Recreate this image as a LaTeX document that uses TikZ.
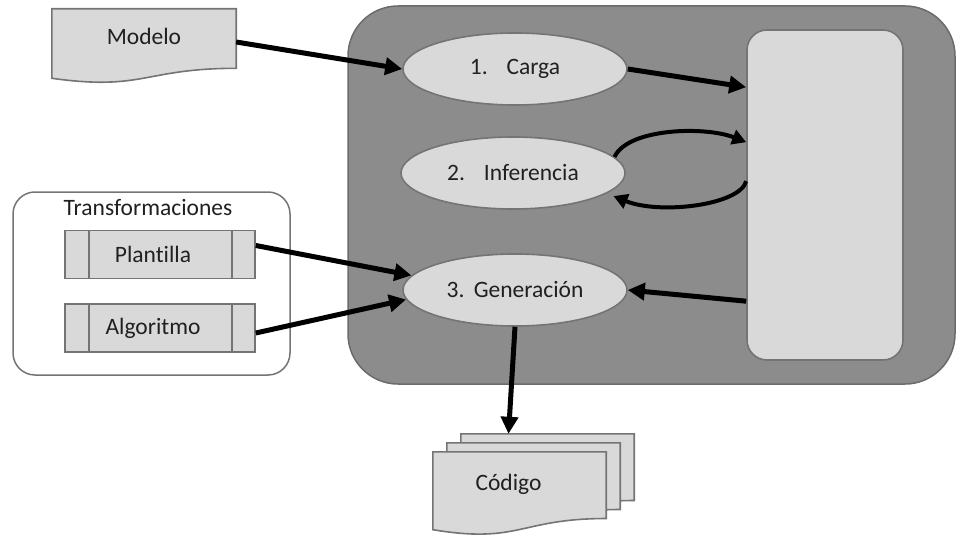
\documentclass[tikz,border=0pt]{standalone}
\usepackage{fontspec}
\setmainfont{Carlito}[Ligatures=NoCommon]
\usetikzlibrary{shapes.geometric,arrows.meta,calc,backgrounds}

\definecolor{panel}{HTML}{8C8C8C}
\definecolor{panelline}{HTML}{6B6B6B}
\definecolor{boxfill}{HTML}{D9D9D9}
\definecolor{boxline}{HTML}{747474}
\definecolor{ink}{HTML}{202020}

% outline of a flowchart "document" sheet, built on the anchors of node #1
\newcommand\docoutline[1]{(#1.north west) -- (#1.north east)
  -- ($(#1.north east)!0.80!(#1.south east)$)
  .. controls ($(#1.north)!0.80!(#1.south)$) and ($(#1.north)!1.107!(#1.south)$)
  .. ($(#1.north west)!0.934!(#1.south west)$) -- cycle}

\begin{document}
\begin{tikzpicture}[x=1pt,y=-1pt,
  font=\fontsize{23.5}{28}\selectfont, text=ink,
  shapefill/.style={fill=boxfill, draw=boxline, line width=1.6pt},
  stage/.style={ellipse, shapefill, minimum width=224pt, minimum height=72pt, inner sep=0pt},
  procbox/.style={rectangle, shapefill, minimum width=190pt, minimum height=48pt, inner sep=0pt},
  sheet/.style={rectangle, inner sep=0pt, minimum width=173pt, text height=38pt, text depth=45pt},
  flow/.style={line width=5pt, -{Triangle[length=17pt,width=17pt]}},
  cycleflow/.style={line width=4pt, -{Triangle[length=14pt,width=15pt]}},
]
\useasboundingbox (0,0) rectangle (956,535);

% processing engine
\node[fill=panel, draw=panelline, line width=1.5pt, rounded corners=50pt,
      minimum width=607pt, minimum height=378pt] (engine) at (651.5,195) {};
\node[shapefill, rounded corners=20pt, minimum width=156pt, minimum height=330pt] (store) at (825,195) {};

\node[stage] (carga) at (515,69) {1.\hspace{0.8em}Carga};
\node[stage] (inferencia) at (513,173) {2.\hspace{0.8em}Inferencia};
\node[stage] (generacion) at (515,290) {3.\hspace{0.4em}Generación};

% transformations group
\node[draw=boxline, fill=white, line width=1.5pt, rounded corners=22pt,
      minimum width=277pt, minimum height=183pt] (transf) at (151.5,283.5) {};
\node (transftitle) at (148,208) {Transformaciones};
\node[procbox] (plantilla) at (160,254.5) {\hspace*{-14pt}Plantilla};
\node[procbox] (algoritmo) at (160,328) {\hspace*{-14pt}Algoritmo};
\foreach \n in {plantilla,algoritmo}
  \draw[boxline, line width=1.6pt]
    ([xshift=25pt]\n.north west) -- ([xshift=25pt]\n.south west)
    ([xshift=-24pt]\n.north east) -- ([xshift=-24pt]\n.south east);

% input model and generated code (document sheets)
\node[rectangle, inner sep=0pt, minimum width=184pt, text height=36pt, text depth=38pt] (modelo) at (144,46) {Modelo};
\node[sheet] (codigo3) at (547.5,475.5) {};
\node[sheet] (codigo2) at (533.5,484.5) {};
\node[sheet] (codigo) at (519.5,493.5) {\hspace*{-22pt}Código};

\begin{scope}[on background layer]
  \filldraw[shapefill] \docoutline{modelo};
  \filldraw[shapefill] \docoutline{codigo3};
  \filldraw[shapefill] \docoutline{codigo2};
  \filldraw[shapefill] \docoutline{codigo};
\end{scope}

% connectors
\draw[flow] ([yshift=4pt]modelo.east) -- (carga.west);
\draw[flow] (carga.east) -- ([yshift=-58pt]store.north west);
\draw[cycleflow] (inferencia.9) .. controls (628,128) and (705,126) .. ([yshift=-113pt]store.north west);
\draw[cycleflow] ([yshift=-152pt]store.north west) .. controls (740,205) and (660,215) .. ([shift={(6pt,-3pt)}]inferencia.-12);
\draw[flow] ([yshift=-272pt]store.north west) -- (generacion.east);
\draw[flow] ([yshift=9pt]plantilla.east) -- (generacion.172);
\draw[flow] ([yshift=-5pt]algoritmo.east) -- (generacion.185);
\draw[flow] (generacion.south) -- ([xshift=-39pt]codigo3.north);
\end{tikzpicture}
\end{document}
